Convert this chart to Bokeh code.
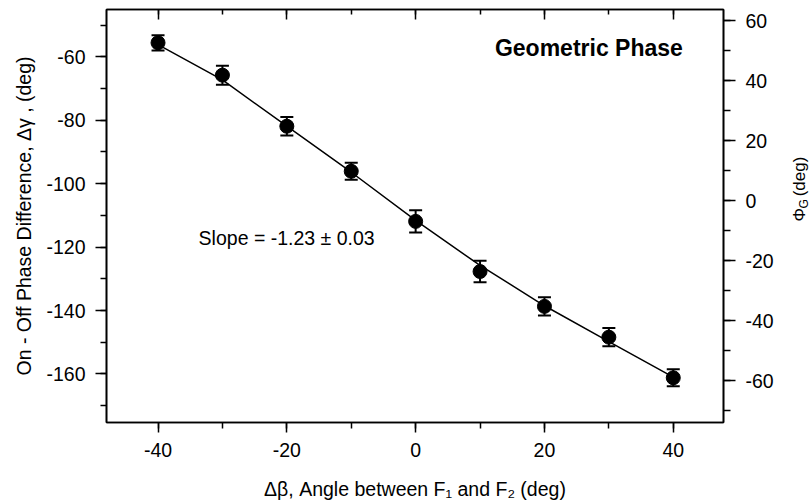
import math
from bokeh.plotting import figure
from bokeh.layouts import row
from bokeh.models import (Range1d, LinearAxis, SingleIntervalTicker, Whisker,
                          ColumnDataSource, Label, TeeHead, PrintfTickFormatter,
                          CustomJSTickFormatter)
from bokeh.core.properties import value
from bokeh.embed import file_html
from bokeh.resources import INLINE

# ---- data ----
beta = [-40, -30, -20, -10, 0, 10, 20, 30, 40]
dgamma = [-55.6, -65.8, -81.9, -96.1, -111.9, -127.7, -138.7, -148.4, -161.2]
dgamma_err = [2.4, 3.0, 2.9, 2.7, 3.5, 3.4, 2.9, 2.9, 2.7]
fit_beta = [-40, -30, -20, -10, 0, 10, 20, 30, 40]
fit_dgamma = [-56.2, -67.3, -81.9, -96.4, -111.6, -125.8, -138.5, -149.8, -161.0]

x_title = "\u0394\u03b2, Angle between F\u2081 and F\u2082 (deg)"
y_title = "On - Off Phase Difference, \u0394\u03b3 , (deg)"
right_title_main = "\u03a6"
right_title_sub = "G"
right_title_unit = "(deg)"
annotation_title = "Geometric Phase"
slope_text = "Slope = -1.23 \u00b1 0.03"

FONT = "Liberation Sans"
FS = "19.5px"
INK = "black"

src = ColumnDataSource(dict(
    x=beta, y=dgamma,
    upper=[v + e for v, e in zip(dgamma, dgamma_err)],
    lower=[v - e for v, e in zip(dgamma, dgamma_err)],
))

MAIN_W = 776
p = figure(width=MAIN_W, height=504, output_backend="svg", toolbar_location=None,
           x_range=Range1d(-48.0, 47.8), y_range=Range1d(-175.3, -45.1),
           min_border_left=106, min_border_right=MAIN_W - 723, min_border_top=9,
           min_border_bottom=82, background_fill_color="white",
           border_fill_color="white")
p.grid.visible = False
p.outline_line_color = INK
p.outline_line_width = 1.6


def style_axis(ax, tick_out, minor_out, tick_in=0, minor_in=0):
    ax.major_tick_out = tick_out
    ax.major_tick_in = tick_in
    ax.minor_tick_out = minor_out
    ax.minor_tick_in = minor_in
    ax.major_tick_line_width = 1.5
    ax.minor_tick_line_width = 1.5
    ax.major_tick_line_color = INK
    ax.minor_tick_line_color = INK
    ax.axis_line_width = 1.6
    ax.axis_line_color = INK
    ax.major_label_text_font = FONT
    ax.major_label_text_font_size = FS
    ax.major_label_text_color = INK
    ax.axis_label_text_font = FONT
    ax.axis_label_text_font_size = FS
    ax.axis_label_text_font_style = "normal"
    ax.axis_label_text_color = INK


# bottom axis
xa = p.xaxis[0]
xa.ticker = SingleIntervalTicker(interval=20, num_minor_ticks=2)
xa.formatter = PrintfTickFormatter(format="%d")
style_axis(xa, 10, 6)
xa.major_label_standoff = 10
xa.axis_label = x_title
xa.axis_label_standoff = 18

# left axis
ya = p.yaxis[0]
ya.ticker = SingleIntervalTicker(interval=20, num_minor_ticks=2)
ya.formatter = PrintfTickFormatter(format="%d")
style_axis(ya, 11, 6)
ya.major_label_standoff = 10
ya.axis_label = y_title
ya.axis_label_standoff = 8

# right axis (geometric phase)
p.extra_y_ranges = {"phi": Range1d(-73.93, 63.74)}
ra = LinearAxis(y_range_name="phi",
                ticker=SingleIntervalTicker(interval=20, num_minor_ticks=2),
                formatter=PrintfTickFormatter(format="%d"))
style_axis(ra, 12, 7)
ra.major_label_standoff = 10
ra.major_label_text_align = "right"
p.add_layout(ra, "right")

# top axis (ticks only, inward)
ta = LinearAxis(ticker=SingleIntervalTicker(interval=20, num_minor_ticks=2),
                formatter=CustomJSTickFormatter(code="return ''"))
style_axis(ta, 0, 0, tick_in=10, minor_in=5)
ta.major_label_standoff = 0
p.add_layout(ta, "above")

# fit curve
p.line(fit_beta, fit_dgamma, line_color=INK, line_width=1.5)

# error bars
p.add_layout(Whisker(source=src, base="x", upper="upper", lower="lower",
                     line_color=INK, line_width=2,
                     upper_head=TeeHead(size=13, line_color=INK, line_width=2),
                     lower_head=TeeHead(size=13, line_color=INK, line_width=2),
                     level="glyph"))

# data points
p.scatter("x", "y", source=src, size=14, fill_color=INK, line_color=INK)

# annotations
p.add_layout(Label(x=26.9, y=-57.3, text=annotation_title, text_font=FONT,
                   text_font_size="23px", text_font_style="bold", text_color=INK,
                   text_align="center", text_baseline="middle"))
p.add_layout(Label(x=-33.7, y=-117.0, text=slope_text, text_font=FONT,
                   text_font_size=FS, text_color=INK,
                   text_align="left", text_baseline="middle"))

# narrow strip at the right holding the rotated right-axis title  Phi_G (deg)
# (shares the vertical range of the main plot, so positions are in its units)
STRIP_W = 809 - MAIN_W
q = figure(width=STRIP_W, height=504, output_backend="svg", toolbar_location=None,
           title=None, x_range=Range1d(0, STRIP_W), y_range=p.y_range,
           min_border_left=0, min_border_right=0, min_border_top=9,
           min_border_bottom=82, x_axis_location=None, y_axis_location=None,
           background_fill_color="white", border_fill_color="white",
           sizing_mode="fixed")
q.grid.visible = False
q.outline_line_color = None
ang = math.pi / 2
q.text(x=[23], y=[-111.9], text=[right_title_main], angle=ang,
       text_font=value(FONT), text_font_size="17px", text_color=INK,
       text_align="left", text_baseline="middle")
q.text(x=[27], y=[-107.8], text=[right_title_sub], angle=ang,
       text_font=value(FONT), text_font_size="12px", text_color=INK,
       text_align="left", text_baseline="middle")
q.text(x=[23], y=[-104.0], text=[right_title_unit], angle=ang,
       text_font=value(FONT), text_font_size="17px", text_color=INK,
       text_align="left", text_baseline="middle")

layout = row(p, q, spacing=0, sizing_mode="fixed")
open("out.html", "w").write(file_html(layout, INLINE))
